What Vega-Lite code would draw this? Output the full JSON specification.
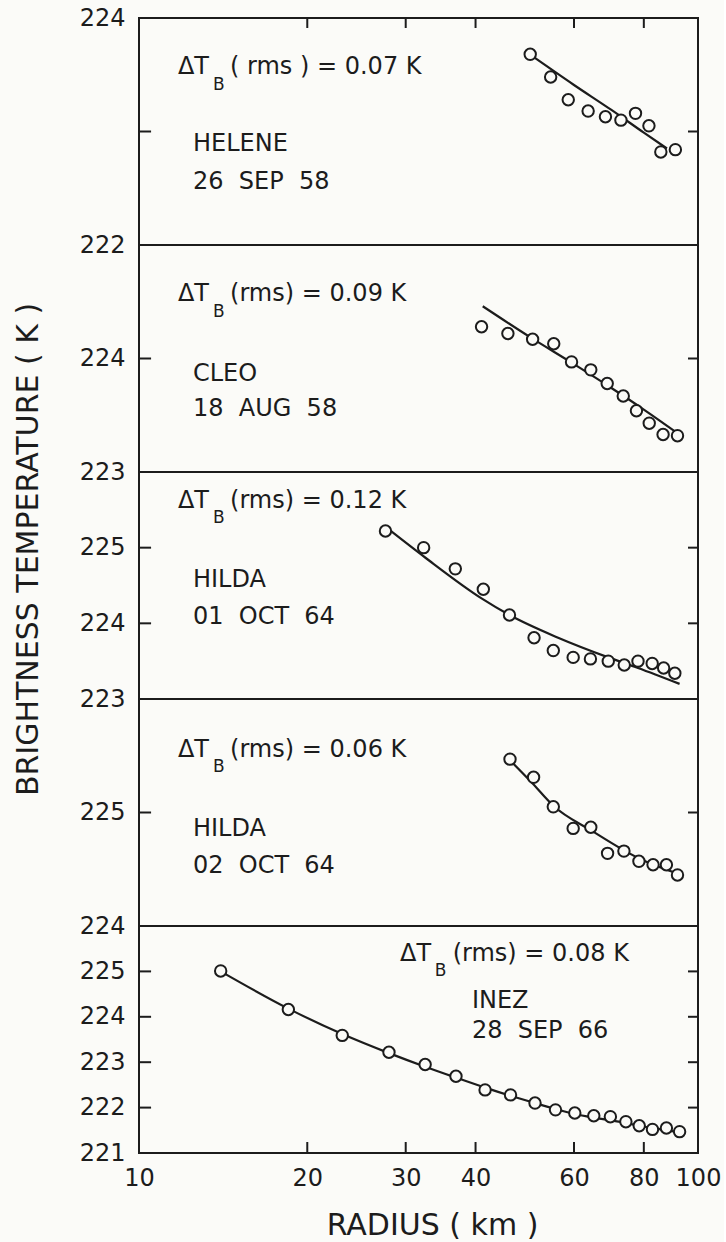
{
  "$schema": "https://vega.github.io/schema/vega-lite/v6.json",
  "background": "#fbfbf8",
  "padding": {"left": 12, "top": 5, "right": 2, "bottom": 3},
  "datasets": {
    "obs": [
      {"storm": "HELENE", "r": 50.1, "t": 223.68}, {"storm": "HELENE", "r": 54.5, "t": 223.48}, {"storm": "HELENE", "r": 58.6, "t": 223.28}, {"storm": "HELENE", "r": 63.6, "t": 223.18}, {"storm": "HELENE", "r": 68.3, "t": 223.13}, {"storm": "HELENE", "r": 72.8, "t": 223.10}, {"storm": "HELENE", "r": 77.3, "t": 223.16}, {"storm": "HELENE", "r": 81.7, "t": 223.05}, {"storm": "HELENE", "r": 85.8, "t": 222.82}, {"storm": "HELENE", "r": 91.1, "t": 222.84},
      {"storm": "CLEO", "r": 41.0, "t": 224.28}, {"storm": "CLEO", "r": 45.7, "t": 224.22}, {"storm": "CLEO", "r": 50.6, "t": 224.17}, {"storm": "CLEO", "r": 55.2, "t": 224.13}, {"storm": "CLEO", "r": 59.4, "t": 223.97}, {"storm": "CLEO", "r": 64.3, "t": 223.90}, {"storm": "CLEO", "r": 68.8, "t": 223.78}, {"storm": "CLEO", "r": 73.5, "t": 223.67}, {"storm": "CLEO", "r": 77.6, "t": 223.54}, {"storm": "CLEO", "r": 81.8, "t": 223.43}, {"storm": "CLEO", "r": 86.6, "t": 223.33}, {"storm": "CLEO", "r": 91.9, "t": 223.32},
      {"storm": "HILDA1", "r": 27.6, "t": 225.22}, {"storm": "HILDA1", "r": 32.3, "t": 225.00}, {"storm": "HILDA1", "r": 36.8, "t": 224.72}, {"storm": "HILDA1", "r": 41.3, "t": 224.45}, {"storm": "HILDA1", "r": 46.0, "t": 224.11}, {"storm": "HILDA1", "r": 50.9, "t": 223.81}, {"storm": "HILDA1", "r": 55.1, "t": 223.64}, {"storm": "HILDA1", "r": 59.8, "t": 223.55}, {"storm": "HILDA1", "r": 64.2, "t": 223.53}, {"storm": "HILDA1", "r": 69.1, "t": 223.50}, {"storm": "HILDA1", "r": 73.8, "t": 223.45}, {"storm": "HILDA1", "r": 78.1, "t": 223.50}, {"storm": "HILDA1", "r": 82.8, "t": 223.47}, {"storm": "HILDA1", "r": 86.8, "t": 223.41}, {"storm": "HILDA1", "r": 90.9, "t": 223.34},
      {"storm": "HILDA2", "r": 46.1, "t": 225.47}, {"storm": "HILDA2", "r": 50.8, "t": 225.31}, {"storm": "HILDA2", "r": 55.1, "t": 225.05}, {"storm": "HILDA2", "r": 59.8, "t": 224.86}, {"storm": "HILDA2", "r": 64.3, "t": 224.87}, {"storm": "HILDA2", "r": 68.9, "t": 224.64}, {"storm": "HILDA2", "r": 73.7, "t": 224.66}, {"storm": "HILDA2", "r": 78.4, "t": 224.57}, {"storm": "HILDA2", "r": 83.1, "t": 224.54}, {"storm": "HILDA2", "r": 87.8, "t": 224.54}, {"storm": "HILDA2", "r": 91.9, "t": 224.45},
      {"storm": "INEZ", "r": 14.0, "t": 225.01}, {"storm": "INEZ", "r": 18.5, "t": 224.16}, {"storm": "INEZ", "r": 23.1, "t": 223.59}, {"storm": "INEZ", "r": 28.0, "t": 223.22}, {"storm": "INEZ", "r": 32.5, "t": 222.95}, {"storm": "INEZ", "r": 36.9, "t": 222.69}, {"storm": "INEZ", "r": 41.6, "t": 222.39}, {"storm": "INEZ", "r": 46.2, "t": 222.28}, {"storm": "INEZ", "r": 51.1, "t": 222.10}, {"storm": "INEZ", "r": 55.6, "t": 221.95}, {"storm": "INEZ", "r": 60.2, "t": 221.88}, {"storm": "INEZ", "r": 65.1, "t": 221.82}, {"storm": "INEZ", "r": 69.7, "t": 221.80}, {"storm": "INEZ", "r": 74.3, "t": 221.69}, {"storm": "INEZ", "r": 78.5, "t": 221.60}, {"storm": "INEZ", "r": 82.9, "t": 221.52}, {"storm": "INEZ", "r": 87.8, "t": 221.55}, {"storm": "INEZ", "r": 92.7, "t": 221.47}
    ],
    "fit": [
      {"storm": "HELENE", "r": 50, "t": 223.68}, {"storm": "HELENE", "r": 60, "t": 223.41}, {"storm": "HELENE", "r": 70, "t": 223.19}, {"storm": "HELENE", "r": 80, "t": 222.99}, {"storm": "HELENE", "r": 88, "t": 222.85},
      {"storm": "CLEO", "r": 41.2, "t": 224.46}, {"storm": "CLEO", "r": 50, "t": 224.19}, {"storm": "CLEO", "r": 60, "t": 223.95}, {"storm": "CLEO", "r": 70, "t": 223.74}, {"storm": "CLEO", "r": 80, "t": 223.55}, {"storm": "CLEO", "r": 92, "t": 223.34},
      {"storm": "HILDA1", "r": 28.0, "t": 225.24}, {"storm": "HILDA1", "r": 32.5, "t": 224.87}, {"storm": "HILDA1", "r": 41.0, "t": 224.33}, {"storm": "HILDA1", "r": 46.0, "t": 224.11}, {"storm": "HILDA1", "r": 56.2, "t": 223.81}, {"storm": "HILDA1", "r": 69.1, "t": 223.55}, {"storm": "HILDA1", "r": 78.1, "t": 223.41}, {"storm": "HILDA1", "r": 92.7, "t": 223.20},
      {"storm": "HILDA2", "r": 46.1, "t": 225.46}, {"storm": "HILDA2", "r": 50.5, "t": 225.26}, {"storm": "HILDA2", "r": 55.1, "t": 225.06}, {"storm": "HILDA2", "r": 64.5, "t": 224.84}, {"storm": "HILDA2", "r": 78.1, "t": 224.60}, {"storm": "HILDA2", "r": 92.1, "t": 224.46},
      {"storm": "INEZ", "r": 14.0, "t": 225.00}, {"storm": "INEZ", "r": 18.5, "t": 224.18}, {"storm": "INEZ", "r": 23.1, "t": 223.62}, {"storm": "INEZ", "r": 28.0, "t": 223.20}, {"storm": "INEZ", "r": 32.5, "t": 222.90}, {"storm": "INEZ", "r": 36.9, "t": 222.66}, {"storm": "INEZ", "r": 41.6, "t": 222.44}, {"storm": "INEZ", "r": 46.2, "t": 222.26}, {"storm": "INEZ", "r": 51.1, "t": 222.10}, {"storm": "INEZ", "r": 55.6, "t": 221.97}, {"storm": "INEZ", "r": 60.2, "t": 221.86}, {"storm": "INEZ", "r": 65.1, "t": 221.78}, {"storm": "INEZ", "r": 69.7, "t": 221.72}, {"storm": "INEZ", "r": 74.3, "t": 221.66}, {"storm": "INEZ", "r": 78.5, "t": 221.60}, {"storm": "INEZ", "r": 82.9, "t": 221.55}, {"storm": "INEZ", "r": 87.8, "t": 221.50}, {"storm": "INEZ", "r": 92.7, "t": 221.46}
    ],
    "ticks": [
      {"storm": "HELENE", "r": 10, "r2": 10.51, "t": 223, "t2": 223}, {"storm": "HELENE", "r": 95.97, "r2": 100, "t": 223, "t2": 223},
      {"storm": "HELENE", "r": 20, "r2": 20, "t": 224, "t2": 223.912}, {"storm": "HELENE", "r": 30, "r2": 30, "t": 224, "t2": 223.912}, {"storm": "HELENE", "r": 40, "r2": 40, "t": 224, "t2": 223.912}, {"storm": "HELENE", "r": 60, "r2": 60, "t": 224, "t2": 223.912}, {"storm": "HELENE", "r": 80, "r2": 80, "t": 224, "t2": 223.912},
      {"storm": "CLEO", "r": 10, "r2": 10.51, "t": 224, "t2": 224}, {"storm": "CLEO", "r": 95.97, "r2": 100, "t": 224, "t2": 224},
      {"storm": "HILDA1", "r": 10, "r2": 10.51, "t": 224, "t2": 224}, {"storm": "HILDA1", "r": 10, "r2": 10.51, "t": 225, "t2": 225}, {"storm": "HILDA1", "r": 95.97, "r2": 100, "t": 224, "t2": 224}, {"storm": "HILDA1", "r": 95.97, "r2": 100, "t": 225, "t2": 225},
      {"storm": "HILDA2", "r": 10, "r2": 10.51, "t": 225, "t2": 225}, {"storm": "HILDA2", "r": 95.97, "r2": 100, "t": 225, "t2": 225},
      {"storm": "INEZ", "r": 10, "r2": 10.51, "t": 222, "t2": 222}, {"storm": "INEZ", "r": 10, "r2": 10.51, "t": 223, "t2": 223}, {"storm": "INEZ", "r": 10, "r2": 10.51, "t": 224, "t2": 224}, {"storm": "INEZ", "r": 10, "r2": 10.51, "t": 225, "t2": 225},
      {"storm": "INEZ", "r": 95.97, "r2": 100, "t": 222, "t2": 222}, {"storm": "INEZ", "r": 95.97, "r2": 100, "t": 223, "t2": 223}, {"storm": "INEZ", "r": 95.97, "r2": 100, "t": 224, "t2": 224}, {"storm": "INEZ", "r": 95.97, "r2": 100, "t": 225, "t2": 225},
      {"storm": "INEZ", "r": 20, "r2": 20, "t": 221, "t2": 221.242}, {"storm": "INEZ", "r": 30, "r2": 30, "t": 221, "t2": 221.242}, {"storm": "INEZ", "r": 40, "r2": 40, "t": 221, "t2": 221.242}, {"storm": "INEZ", "r": 60, "r2": 60, "t": 221, "t2": 221.242}, {"storm": "INEZ", "r": 80, "r2": 80, "t": 221, "t2": 221.242}
    ],
    "notes": [
      {"storm": "HELENE", "part": "main", "text": "ΔT", "r": 11.74, "t": 223.51},
      {"storm": "HELENE", "part": "sub", "text": "B", "r": 13.57, "t": 223.37},
      {"storm": "HELENE", "part": "main", "text": "( rms ) = 0.07 K", "r": 14.55, "t": 223.51},
      {"storm": "HELENE", "part": "main", "text": "HELENE", "r": 12.49, "t": 222.83},
      {"storm": "HELENE", "part": "main", "text": "26\u00a0 SEP\u00a0 58", "r": 12.49, "t": 222.49},
      {"storm": "CLEO", "part": "main", "text": "ΔT", "r": 11.74, "t": 224.51},
      {"storm": "CLEO", "part": "sub", "text": "B", "r": 13.57, "t": 224.37},
      {"storm": "CLEO", "part": "main", "text": "(rms) = 0.09 K", "r": 14.55, "t": 224.51},
      {"storm": "CLEO", "part": "main", "text": "CLEO", "r": 12.49, "t": 223.80},
      {"storm": "CLEO", "part": "main", "text": "18\u00a0 AUG\u00a0 58", "r": 12.49, "t": 223.49},
      {"storm": "HILDA1", "part": "main", "text": "ΔT", "r": 11.74, "t": 225.52},
      {"storm": "HILDA1", "part": "sub", "text": "B", "r": 13.57, "t": 225.33},
      {"storm": "HILDA1", "part": "main", "text": "(rms) = 0.12 K", "r": 14.55, "t": 225.52},
      {"storm": "HILDA1", "part": "main", "text": "HILDA", "r": 12.49, "t": 224.48},
      {"storm": "HILDA1", "part": "main", "text": "01\u00a0 OCT\u00a0 64", "r": 12.49, "t": 223.99},
      {"storm": "HILDA2", "part": "main", "text": "ΔT", "r": 11.74, "t": 225.49},
      {"storm": "HILDA2", "part": "sub", "text": "B", "r": 13.57, "t": 225.36},
      {"storm": "HILDA2", "part": "main", "text": "(rms) = 0.06 K", "r": 14.55, "t": 225.49},
      {"storm": "HILDA2", "part": "main", "text": "HILDA", "r": 12.49, "t": 224.79},
      {"storm": "HILDA2", "part": "main", "text": "02\u00a0 OCT\u00a0 64", "r": 12.49, "t": 224.47},
      {"storm": "INEZ", "part": "main", "text": "ΔT", "r": 29.3, "t": 225.23},
      {"storm": "INEZ", "part": "sub", "text": "B", "r": 33.8, "t": 224.90},
      {"storm": "INEZ", "part": "main", "text": "(rms) = 0.08 K", "r": 36.4, "t": 225.23},
      {"storm": "INEZ", "part": "main", "text": "INEZ", "r": 39.4, "t": 224.19},
      {"storm": "INEZ", "part": "main", "text": "28\u00a0 SEP\u00a0 66", "r": 39.4, "t": 223.53}
    ]
  },
  "vconcat": [
    {
      "width": 559, "height": 227,
      "resolve": {"axis": {"x": "independent", "y": "independent"}},
      "layer": [
        {"data": {"name": "fit"}, "transform": [{"filter": "datum.storm === 'HELENE'"}],
         "mark": {"type": "line", "color": "#1c1c1c", "strokeWidth": 2.2, "interpolate": "monotone", "clip": true},
         "encoding": {
           "x": {"field": "r", "type": "quantitative", "scale": {"type": "log", "domain": [10, 100], "nice": false}, "axis": null},
           "y": {"field": "t", "type": "quantitative", "scale": {"domain": [222, 224], "nice": false, "zero": false}, "axis": {"orient": "left", "values": [222, 223, 224], "format": "d", "labelPadding": 14, "title": "BRIGHTNESS TEMPERATURE ( K )", "titleX": -102, "titleY": 531, "titleAngle": -90, "titleBaseline": "alphabetic", "titleAlign": "center"}}}},
        {"data": {"name": "ticks"}, "transform": [{"filter": "datum.storm === 'HELENE'"}],
         "mark": {"type": "rule", "color": "#1c1c1c", "strokeWidth": 2, "opacity": 1},
         "encoding": {
           "x": {"field": "r", "type": "quantitative", "scale": {"type": "log", "domain": [10, 100], "nice": false}, "axis": null},
           "x2": {"field": "r2"},
           "y": {"field": "t", "type": "quantitative", "scale": {"domain": [222, 224], "nice": false, "zero": false}, "axis": null},
           "y2": {"field": "t2"}}},
        {"data": {"name": "obs"}, "transform": [{"filter": "datum.storm === 'HELENE'"}],
         "mark": {"type": "point", "shape": "circle", "filled": true, "fill": "#fbfbf8", "stroke": "#1c1c1c", "strokeWidth": 2, "size": 130, "opacity": 1, "clip": true},
         "encoding": {
           "x": {"field": "r", "type": "quantitative", "scale": {"type": "log", "domain": [10, 100], "nice": false}, "axis": null},
           "y": {"field": "t", "type": "quantitative", "scale": {"domain": [222, 224], "nice": false, "zero": false}, "axis": null}}},
        {"data": {"name": "notes"}, "transform": [{"filter": "datum.storm === 'HELENE' && datum.part === 'main'"}],
         "mark": {"type": "text", "align": "left", "baseline": "alphabetic", "fontSize": 24},
         "encoding": {
           "x": {"field": "r", "type": "quantitative", "scale": {"type": "log", "domain": [10, 100], "nice": false}, "axis": null},
           "y": {"field": "t", "type": "quantitative", "scale": {"domain": [222, 224], "nice": false, "zero": false}, "axis": null},
           "text": {"field": "text"}}},
        {"data": {"name": "notes"}, "transform": [{"filter": "datum.storm === 'HELENE' && datum.part === 'sub'"}],
         "mark": {"type": "text", "align": "left", "baseline": "alphabetic", "fontSize": 17},
         "encoding": {
           "x": {"field": "r", "type": "quantitative", "scale": {"type": "log", "domain": [10, 100], "nice": false}, "axis": null},
           "y": {"field": "t", "type": "quantitative", "scale": {"domain": [222, 224], "nice": false, "zero": false}, "axis": null},
           "text": {"field": "text"}}}
      ]
    },
    {
      "width": 559, "height": 227,
      "resolve": {"axis": {"x": "independent", "y": "independent"}},
      "layer": [
        {"data": {"name": "fit"}, "transform": [{"filter": "datum.storm === 'CLEO'"}],
         "mark": {"type": "line", "color": "#1c1c1c", "strokeWidth": 2.2, "interpolate": "monotone", "clip": true},
         "encoding": {
           "x": {"field": "r", "type": "quantitative", "scale": {"type": "log", "domain": [10, 100], "nice": false}, "axis": null},
           "y": {"field": "t", "type": "quantitative", "scale": {"domain": [223, 225], "nice": false, "zero": false}, "axis": {"orient": "left", "values": [223, 224], "format": "d", "labelPadding": 14, "title": null}}}},
        {"data": {"name": "ticks"}, "transform": [{"filter": "datum.storm === 'CLEO'"}],
         "mark": {"type": "rule", "color": "#1c1c1c", "strokeWidth": 2, "opacity": 1},
         "encoding": {
           "x": {"field": "r", "type": "quantitative", "scale": {"type": "log", "domain": [10, 100], "nice": false}, "axis": null},
           "x2": {"field": "r2"},
           "y": {"field": "t", "type": "quantitative", "scale": {"domain": [223, 225], "nice": false, "zero": false}, "axis": null},
           "y2": {"field": "t2"}}},
        {"data": {"name": "obs"}, "transform": [{"filter": "datum.storm === 'CLEO'"}],
         "mark": {"type": "point", "shape": "circle", "filled": true, "fill": "#fbfbf8", "stroke": "#1c1c1c", "strokeWidth": 2, "size": 130, "opacity": 1, "clip": true},
         "encoding": {
           "x": {"field": "r", "type": "quantitative", "scale": {"type": "log", "domain": [10, 100], "nice": false}, "axis": null},
           "y": {"field": "t", "type": "quantitative", "scale": {"domain": [223, 225], "nice": false, "zero": false}, "axis": null}}},
        {"data": {"name": "notes"}, "transform": [{"filter": "datum.storm === 'CLEO' && datum.part === 'main'"}],
         "mark": {"type": "text", "align": "left", "baseline": "alphabetic", "fontSize": 24},
         "encoding": {
           "x": {"field": "r", "type": "quantitative", "scale": {"type": "log", "domain": [10, 100], "nice": false}, "axis": null},
           "y": {"field": "t", "type": "quantitative", "scale": {"domain": [223, 225], "nice": false, "zero": false}, "axis": null},
           "text": {"field": "text"}}},
        {"data": {"name": "notes"}, "transform": [{"filter": "datum.storm === 'CLEO' && datum.part === 'sub'"}],
         "mark": {"type": "text", "align": "left", "baseline": "alphabetic", "fontSize": 17},
         "encoding": {
           "x": {"field": "r", "type": "quantitative", "scale": {"type": "log", "domain": [10, 100], "nice": false}, "axis": null},
           "y": {"field": "t", "type": "quantitative", "scale": {"domain": [223, 225], "nice": false, "zero": false}, "axis": null},
           "text": {"field": "text"}}}
      ]
    },
    {
      "width": 559, "height": 227,
      "resolve": {"axis": {"x": "independent", "y": "independent"}},
      "layer": [
        {"data": {"name": "fit"}, "transform": [{"filter": "datum.storm === 'HILDA1'"}],
         "mark": {"type": "line", "color": "#1c1c1c", "strokeWidth": 2.2, "interpolate": "monotone", "clip": true},
         "encoding": {
           "x": {"field": "r", "type": "quantitative", "scale": {"type": "log", "domain": [10, 100], "nice": false}, "axis": null},
           "y": {"field": "t", "type": "quantitative", "scale": {"domain": [223, 226], "nice": false, "zero": false}, "axis": {"orient": "left", "values": [223, 224, 225], "format": "d", "labelPadding": 14, "title": null}}}},
        {"data": {"name": "ticks"}, "transform": [{"filter": "datum.storm === 'HILDA1'"}],
         "mark": {"type": "rule", "color": "#1c1c1c", "strokeWidth": 2, "opacity": 1},
         "encoding": {
           "x": {"field": "r", "type": "quantitative", "scale": {"type": "log", "domain": [10, 100], "nice": false}, "axis": null},
           "x2": {"field": "r2"},
           "y": {"field": "t", "type": "quantitative", "scale": {"domain": [223, 226], "nice": false, "zero": false}, "axis": null},
           "y2": {"field": "t2"}}},
        {"data": {"name": "obs"}, "transform": [{"filter": "datum.storm === 'HILDA1'"}],
         "mark": {"type": "point", "shape": "circle", "filled": true, "fill": "#fbfbf8", "stroke": "#1c1c1c", "strokeWidth": 2, "size": 130, "opacity": 1, "clip": true},
         "encoding": {
           "x": {"field": "r", "type": "quantitative", "scale": {"type": "log", "domain": [10, 100], "nice": false}, "axis": null},
           "y": {"field": "t", "type": "quantitative", "scale": {"domain": [223, 226], "nice": false, "zero": false}, "axis": null}}},
        {"data": {"name": "notes"}, "transform": [{"filter": "datum.storm === 'HILDA1' && datum.part === 'main'"}],
         "mark": {"type": "text", "align": "left", "baseline": "alphabetic", "fontSize": 24},
         "encoding": {
           "x": {"field": "r", "type": "quantitative", "scale": {"type": "log", "domain": [10, 100], "nice": false}, "axis": null},
           "y": {"field": "t", "type": "quantitative", "scale": {"domain": [223, 226], "nice": false, "zero": false}, "axis": null},
           "text": {"field": "text"}}},
        {"data": {"name": "notes"}, "transform": [{"filter": "datum.storm === 'HILDA1' && datum.part === 'sub'"}],
         "mark": {"type": "text", "align": "left", "baseline": "alphabetic", "fontSize": 17},
         "encoding": {
           "x": {"field": "r", "type": "quantitative", "scale": {"type": "log", "domain": [10, 100], "nice": false}, "axis": null},
           "y": {"field": "t", "type": "quantitative", "scale": {"domain": [223, 226], "nice": false, "zero": false}, "axis": null},
           "text": {"field": "text"}}}
      ]
    },
    {
      "width": 559, "height": 227,
      "resolve": {"axis": {"x": "independent", "y": "independent"}},
      "layer": [
        {"data": {"name": "fit"}, "transform": [{"filter": "datum.storm === 'HILDA2'"}],
         "mark": {"type": "line", "color": "#1c1c1c", "strokeWidth": 2.2, "interpolate": "monotone", "clip": true},
         "encoding": {
           "x": {"field": "r", "type": "quantitative", "scale": {"type": "log", "domain": [10, 100], "nice": false}, "axis": null},
           "y": {"field": "t", "type": "quantitative", "scale": {"domain": [224, 226], "nice": false, "zero": false}, "axis": {"orient": "left", "values": [224, 225], "format": "d", "labelPadding": 14, "title": null}}}},
        {"data": {"name": "ticks"}, "transform": [{"filter": "datum.storm === 'HILDA2'"}],
         "mark": {"type": "rule", "color": "#1c1c1c", "strokeWidth": 2, "opacity": 1},
         "encoding": {
           "x": {"field": "r", "type": "quantitative", "scale": {"type": "log", "domain": [10, 100], "nice": false}, "axis": null},
           "x2": {"field": "r2"},
           "y": {"field": "t", "type": "quantitative", "scale": {"domain": [224, 226], "nice": false, "zero": false}, "axis": null},
           "y2": {"field": "t2"}}},
        {"data": {"name": "obs"}, "transform": [{"filter": "datum.storm === 'HILDA2'"}],
         "mark": {"type": "point", "shape": "circle", "filled": true, "fill": "#fbfbf8", "stroke": "#1c1c1c", "strokeWidth": 2, "size": 130, "opacity": 1, "clip": true},
         "encoding": {
           "x": {"field": "r", "type": "quantitative", "scale": {"type": "log", "domain": [10, 100], "nice": false}, "axis": null},
           "y": {"field": "t", "type": "quantitative", "scale": {"domain": [224, 226], "nice": false, "zero": false}, "axis": null}}},
        {"data": {"name": "notes"}, "transform": [{"filter": "datum.storm === 'HILDA2' && datum.part === 'main'"}],
         "mark": {"type": "text", "align": "left", "baseline": "alphabetic", "fontSize": 24},
         "encoding": {
           "x": {"field": "r", "type": "quantitative", "scale": {"type": "log", "domain": [10, 100], "nice": false}, "axis": null},
           "y": {"field": "t", "type": "quantitative", "scale": {"domain": [224, 226], "nice": false, "zero": false}, "axis": null},
           "text": {"field": "text"}}},
        {"data": {"name": "notes"}, "transform": [{"filter": "datum.storm === 'HILDA2' && datum.part === 'sub'"}],
         "mark": {"type": "text", "align": "left", "baseline": "alphabetic", "fontSize": 17},
         "encoding": {
           "x": {"field": "r", "type": "quantitative", "scale": {"type": "log", "domain": [10, 100], "nice": false}, "axis": null},
           "y": {"field": "t", "type": "quantitative", "scale": {"domain": [224, 226], "nice": false, "zero": false}, "axis": null},
           "text": {"field": "text"}}}
      ]
    },
    {
      "width": 559, "height": 227,
      "resolve": {"axis": {"x": "independent", "y": "independent"}},
      "layer": [
        {"data": {"name": "fit"}, "transform": [{"filter": "datum.storm === 'INEZ'"}],
         "mark": {"type": "line", "color": "#1c1c1c", "strokeWidth": 2.2, "interpolate": "monotone", "clip": true},
         "encoding": {
           "x": {"field": "r", "type": "quantitative", "scale": {"type": "log", "domain": [10, 100], "nice": false}, "axis": {"orient": "bottom", "values": [10, 20, 30, 40, 60, 80, 100], "format": "d", "labelPadding": 13, "labelFlush": false, "labelOverlap": false, "title": "RADIUS ( km )", "titleX": 293, "titleY": 81, "titleBaseline": "alphabetic", "titleAlign": "center"}},
           "y": {"field": "t", "type": "quantitative", "scale": {"domain": [221, 226], "nice": false, "zero": false}, "axis": {"orient": "left", "values": [221, 222, 223, 224, 225], "format": "d", "labelPadding": 14, "title": null}}}},
        {"data": {"name": "ticks"}, "transform": [{"filter": "datum.storm === 'INEZ'"}],
         "mark": {"type": "rule", "color": "#1c1c1c", "strokeWidth": 2, "opacity": 1},
         "encoding": {
           "x": {"field": "r", "type": "quantitative", "scale": {"type": "log", "domain": [10, 100], "nice": false}, "axis": null},
           "x2": {"field": "r2"},
           "y": {"field": "t", "type": "quantitative", "scale": {"domain": [221, 226], "nice": false, "zero": false}, "axis": null},
           "y2": {"field": "t2"}}},
        {"data": {"name": "obs"}, "transform": [{"filter": "datum.storm === 'INEZ'"}],
         "mark": {"type": "point", "shape": "circle", "filled": true, "fill": "#fbfbf8", "stroke": "#1c1c1c", "strokeWidth": 2, "size": 130, "opacity": 1, "clip": true},
         "encoding": {
           "x": {"field": "r", "type": "quantitative", "scale": {"type": "log", "domain": [10, 100], "nice": false}, "axis": null},
           "y": {"field": "t", "type": "quantitative", "scale": {"domain": [221, 226], "nice": false, "zero": false}, "axis": null}}},
        {"data": {"name": "notes"}, "transform": [{"filter": "datum.storm === 'INEZ' && datum.part === 'main'"}],
         "mark": {"type": "text", "align": "left", "baseline": "alphabetic", "fontSize": 24},
         "encoding": {
           "x": {"field": "r", "type": "quantitative", "scale": {"type": "log", "domain": [10, 100], "nice": false}, "axis": null},
           "y": {"field": "t", "type": "quantitative", "scale": {"domain": [221, 226], "nice": false, "zero": false}, "axis": null},
           "text": {"field": "text"}}},
        {"data": {"name": "notes"}, "transform": [{"filter": "datum.storm === 'INEZ' && datum.part === 'sub'"}],
         "mark": {"type": "text", "align": "left", "baseline": "alphabetic", "fontSize": 17},
         "encoding": {
           "x": {"field": "r", "type": "quantitative", "scale": {"type": "log", "domain": [10, 100], "nice": false}, "axis": null},
           "y": {"field": "t", "type": "quantitative", "scale": {"domain": [221, 226], "nice": false, "zero": false}, "axis": null},
           "text": {"field": "text"}}}
      ]
    }
  ],
  "spacing": 0,
  "bounds": "flush",
  "config": {
    "view": {"stroke": "#1c1c1c", "strokeWidth": 2},
    "axis": {"grid": false, "domain": false, "ticks": false, "labelColor": "#1c1c1c", "labelFont": "DejaVu Sans", "labelFontSize": 24, "titleFont": "DejaVu Sans", "titleFontSize": 30, "titleFontWeight": "normal", "titleColor": "#1c1c1c"},
    "text": {"font": "DejaVu Sans", "color": "#1c1c1c"}
  }
}
